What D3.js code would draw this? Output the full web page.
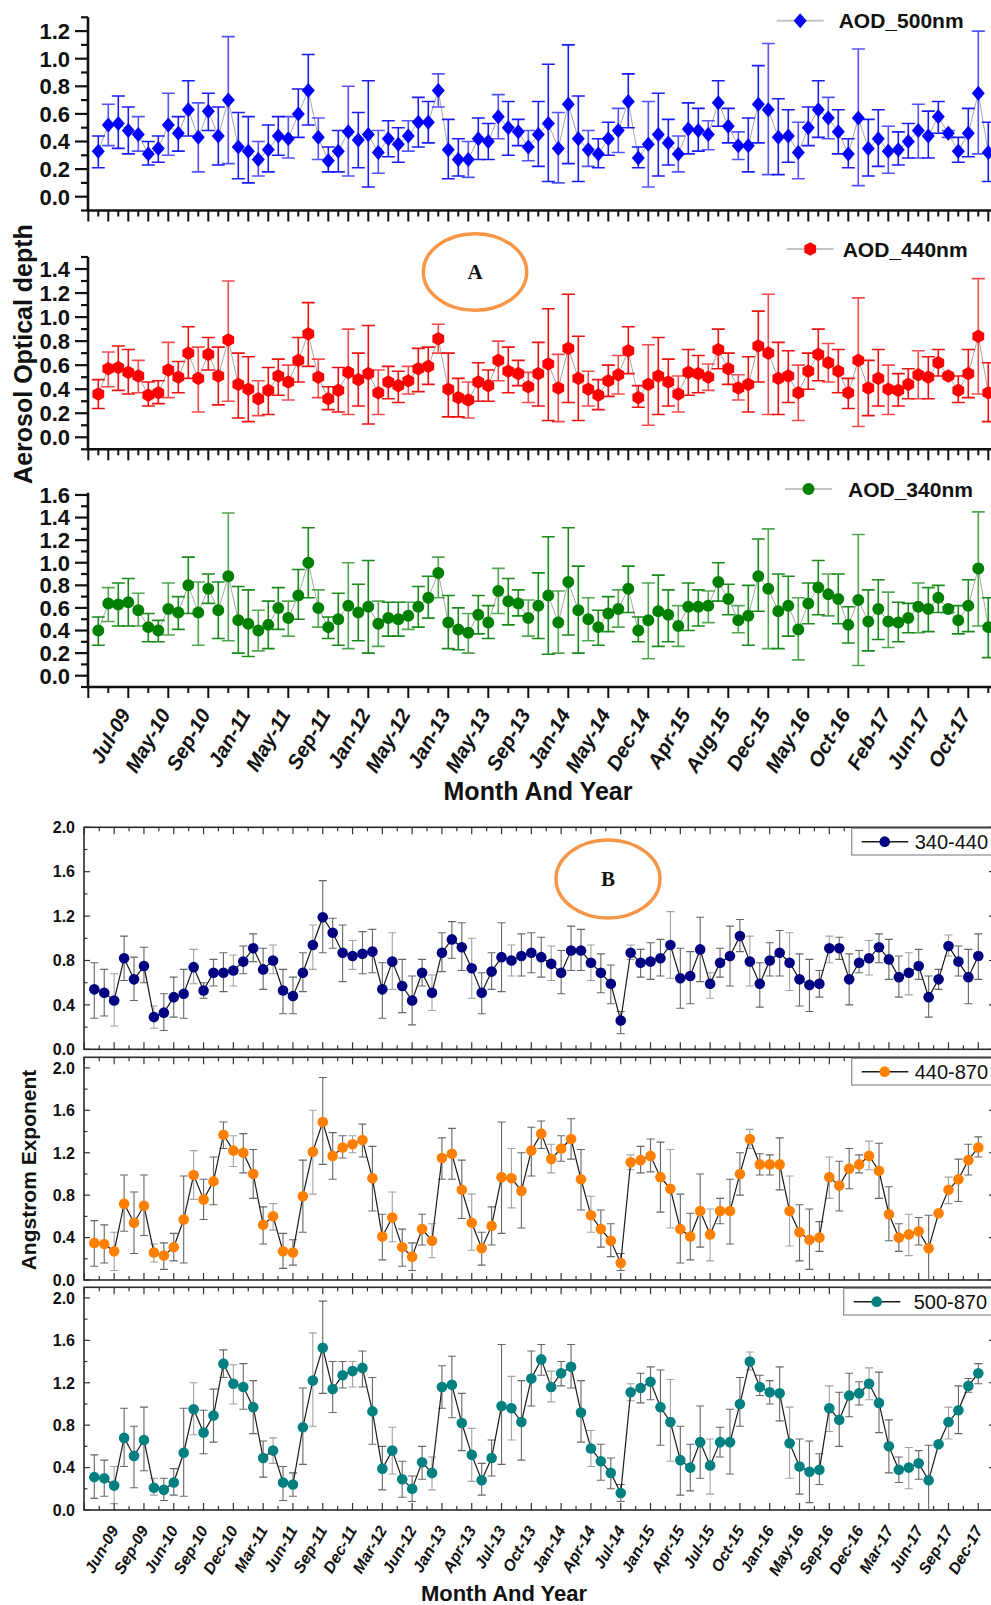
<!DOCTYPE html>
<html>
<head>
<meta charset="utf-8">
<script src="https://cdn.jsdelivr.net/npm/d3@7/dist/d3.min.js"></script>
<style>
body { margin: 0; background: #fff; }
svg { display: block; font-family: "Liberation Sans", Arial, sans-serif; }
</style>
</head>
<body>
<div id="chart"></div>
<script>
// month labels shown on the category axes
var labelsA = ["Jul-09","May-10","Sep-10","Jan-11","May-11","Sep-11","Jan-12","May-12","Jan-13","May-13","Sep-13",
  "Jan-14","May-14","Dec-14","Apr-15","Aug-15","Dec-15","May-16","Oct-16","Feb-17","Jun-17","Oct-17"];
var labelsB = ["Jun-09","Sep-09","Jun-10","Sep-10","Dec-10","Mar-11","Jun-11","Sep-11","Dec-11","Mar-12","Jun-12",
  "Jan-13","Apr-13","Jul-13","Oct-13","Jan-14","Apr-14","Jul-14","Jan-15","Apr-15","Jul-15","Oct-15","Jan-16",
  "May-16","Sep-16","Dec-16","Mar-17","Jun-17","Sep-17","Dec-17"];

// AOD 500 nm: mean, upper and lower error values
var aod500 = [0.33,0.52,0.53,0.48,0.45,0.31,0.35,0.52,0.46,0.63, 0.43,0.62,0.44,0.70,0.36,0.33,0.27,0.34,0.44,0.42,
  0.60,0.77,0.43,0.26,0.33,0.47,0.41,0.45,0.32,0.42, 0.38,0.44,0.54,0.54,0.77,0.34,0.27,0.27,0.42,0.40,
  0.58,0.50,0.47,0.36,0.45,0.53,0.35,0.67,0.42,0.34, 0.31,0.42,0.48,0.69,0.28,0.38,0.45,0.39,0.31,0.49,
  0.48,0.45,0.68,0.51,0.37,0.37,0.67,0.63,0.43,0.44, 0.32,0.50,0.63,0.57,0.47,0.31,0.57,0.35,0.42,0.33,
  0.34,0.40,0.48,0.44,0.58,0.46,0.33,0.46,0.75,0.32];
var aod500Hi = [0.44,0.67,0.73,0.65,0.58,0.40,0.44,0.75,0.58,0.84, 0.68,0.75,0.65,1.16,0.61,0.58,0.40,0.52,0.58,0.58,
  0.78,1.03,0.57,0.36,0.48,0.80,0.61,0.84,0.48,0.55, 0.50,0.55,0.72,0.69,0.89,0.56,0.42,0.40,0.57,0.53,
  0.74,0.69,0.56,0.48,0.69,0.96,0.61,1.10,0.73,0.48, 0.42,0.54,0.64,0.89,0.36,0.69,0.75,0.56,0.44,0.68,
  0.64,0.55,0.84,0.64,0.47,0.57,0.95,1.11,0.71,0.63, 0.54,0.65,0.84,0.72,0.63,0.42,1.07,0.56,0.63,0.51,
  0.47,0.53,0.67,0.62,0.69,0.48,0.43,0.64,1.20,0.54];
var aod500Lo = [0.21,0.37,0.35,0.31,0.33,0.23,0.25,0.30,0.33,0.44, 0.18,0.48,0.23,0.24,0.13,0.10,0.15,0.18,0.30,0.28,
  0.43,0.52,0.27,0.18,0.18,0.15,0.21,0.07,0.17,0.29, 0.25,0.33,0.36,0.39,0.65,0.13,0.15,0.14,0.27,0.27,
  0.42,0.30,0.37,0.26,0.22,0.11,0.10,0.24,0.11,0.22, 0.21,0.30,0.32,0.50,0.21,0.07,0.15,0.23,0.18,0.31,
  0.33,0.34,0.51,0.39,0.27,0.18,0.39,0.16,0.16,0.25, 0.13,0.37,0.43,0.42,0.31,0.21,0.08,0.15,0.22,0.17,
  0.23,0.28,0.28,0.28,0.46,0.43,0.25,0.29,0.31,0.11];

// AOD 440 nm
var aod440 = [0.36,0.57,0.58,0.54,0.51,0.35,0.37,0.56,0.50,0.70, 0.49,0.69,0.51,0.81,0.44,0.40,0.32,0.39,0.51,0.46,
  0.64,0.86,0.50,0.32,0.39,0.54,0.48,0.53,0.37,0.46, 0.43,0.47,0.57,0.59,0.82,0.40,0.33,0.31,0.46,0.43,
  0.64,0.55,0.53,0.42,0.53,0.61,0.41,0.74,0.49,0.40, 0.35,0.47,0.52,0.72,0.33,0.44,0.51,0.46,0.36,0.54,
  0.53,0.50,0.73,0.57,0.41,0.44,0.76,0.70,0.49,0.51, 0.37,0.55,0.69,0.62,0.55,0.37,0.64,0.41,0.49,0.40,
  0.39,0.44,0.52,0.50,0.62,0.51,0.39,0.53,0.84,0.37];
var aod440Hi = [0.48,0.71,0.76,0.73,0.64,0.46,0.47,0.79,0.63,0.92, 0.75,0.83,0.75,1.30,0.70,0.67,0.47,0.58,0.65,0.60,
  0.83,1.12,0.65,0.42,0.58,0.90,0.70,0.93,0.56,0.59, 0.55,0.59,0.74,0.75,0.94,0.70,0.49,0.46,0.62,0.56,
  0.80,0.75,0.64,0.54,0.79,1.07,0.69,1.19,0.84,0.55, 0.48,0.60,0.68,0.92,0.43,0.77,0.83,0.65,0.51,0.73,
  0.68,0.61,0.90,0.70,0.52,0.67,1.05,1.19,0.79,0.72, 0.60,0.70,0.90,0.78,0.73,0.49,1.16,0.64,0.73,0.60,
  0.53,0.57,0.72,0.67,0.73,0.52,0.51,0.73,1.32,0.62];
var aod440Lo = [0.24,0.42,0.39,0.36,0.37,0.26,0.28,0.33,0.37,0.49, 0.21,0.56,0.27,0.30,0.16,0.13,0.18,0.19,0.35,0.31,
  0.46,0.59,0.33,0.23,0.21,0.19,0.26,0.11,0.19,0.32, 0.29,0.36,0.38,0.44,0.70,0.17,0.17,0.16,0.30,0.30,
  0.47,0.37,0.43,0.29,0.26,0.14,0.13,0.29,0.14,0.26, 0.23,0.34,0.36,0.53,0.25,0.10,0.19,0.26,0.21,0.35,
  0.37,0.39,0.57,0.44,0.31,0.21,0.46,0.19,0.19,0.29, 0.14,0.40,0.47,0.46,0.37,0.24,0.09,0.18,0.26,0.19,
  0.26,0.32,0.32,0.32,0.51,0.50,0.29,0.33,0.36,0.13];

// AOD 340 nm
var aod340 = [0.40,0.64,0.63,0.65,0.58,0.43,0.40,0.59,0.56,0.80, 0.56,0.77,0.58,0.88,0.49,0.46,0.40,0.45,0.60,0.51,
  0.71,1.00,0.60,0.43,0.50,0.62,0.56,0.61,0.46,0.51, 0.50,0.53,0.61,0.69,0.91,0.47,0.41,0.38,0.54,0.47,
  0.75,0.66,0.64,0.51,0.62,0.71,0.47,0.83,0.58,0.50, 0.43,0.55,0.59,0.77,0.40,0.49,0.57,0.54,0.44,0.61,
  0.61,0.62,0.83,0.68,0.49,0.53,0.88,0.77,0.57,0.62, 0.41,0.64,0.78,0.72,0.68,0.45,0.67,0.48,0.59,0.48,
  0.47,0.51,0.61,0.59,0.69,0.59,0.49,0.62,0.95,0.43];
var aod340Hi = [0.52,0.78,0.82,0.86,0.73,0.55,0.49,0.82,0.70,1.05, 0.83,0.90,0.83,1.44,0.79,0.76,0.58,0.66,0.78,0.66,
  0.94,1.31,0.76,0.52,0.73,1.00,0.81,1.02,0.66,0.65, 0.65,0.65,0.79,0.88,1.05,0.71,0.60,0.55,0.71,0.62,
  0.95,0.86,0.76,0.67,0.91,1.23,0.75,1.31,0.97,0.69, 0.58,0.70,0.76,0.97,0.52,0.82,0.89,0.76,0.62,0.82,
  0.76,0.75,1.00,0.81,0.62,0.80,1.21,1.30,0.90,0.88, 0.69,0.82,1.02,0.90,0.90,0.61,1.25,0.76,0.85,0.74,
  0.65,0.64,0.82,0.78,0.80,0.61,0.62,0.85,1.45,0.69];
var aod340Lo = [0.27,0.48,0.44,0.44,0.44,0.30,0.30,0.36,0.41,0.55, 0.27,0.64,0.33,0.31,0.20,0.17,0.22,0.24,0.41,0.35,
  0.50,0.69,0.43,0.33,0.27,0.24,0.31,0.20,0.26,0.35, 0.35,0.41,0.43,0.51,0.69,0.24,0.23,0.20,0.37,0.33,
  0.55,0.45,0.53,0.35,0.33,0.19,0.20,0.36,0.20,0.31, 0.27,0.39,0.43,0.56,0.30,0.15,0.26,0.30,0.26,0.40,
  0.44,0.47,0.66,0.54,0.38,0.27,0.57,0.24,0.24,0.35, 0.14,0.46,0.54,0.53,0.46,0.29,0.09,0.22,0.32,0.25,
  0.30,0.38,0.38,0.39,0.56,0.56,0.37,0.39,0.44,0.16];

// Angstrom exponent 340-440
var ae340 = [0.54,0.51,0.44,0.82,0.63,0.75,0.29,0.33,0.47,0.50, 0.74,0.53,0.69,0.69,0.71,0.79,0.91,0.72,0.80,0.53,
  0.48,0.69,0.94,1.19,1.05,0.87,0.84,0.86,0.88,0.54, 0.79,0.57,0.44,0.69,0.51,0.87,0.99,0.92,0.73,0.51,
  0.70,0.83,0.80,0.84,0.87,0.83,0.77,0.69,0.89,0.89, 0.78,0.69,0.59,0.26,0.87,0.78,0.79,0.82,0.94,0.64,
  0.66,0.90,0.59,0.78,0.84,1.02,0.79,0.59,0.80,0.87, 0.78,0.63,0.58,0.59,0.91,0.91,0.63,0.78,0.82,0.92,
  0.81,0.65,0.69,0.75,0.47,0.63,0.93,0.79,0.65,0.84];
var ae340Hi = [0.78,0.72,0.68,1.02,0.83,0.92,0.39,0.50,0.65,0.72, 0.90,0.60,0.81,0.87,0.85,0.93,1.04,0.91,0.94,0.72,
  0.65,0.87,1.12,1.52,1.18,1.12,0.98,1.06,1.08,0.78, 1.05,0.81,0.66,0.81,0.67,1.05,1.15,1.14,1.00,0.69,
  0.87,1.14,0.94,1.04,1.05,1.01,0.93,0.89,1.11,1.08, 0.94,0.86,0.76,0.34,0.94,0.90,0.96,0.99,1.24,0.91,
  0.88,1.19,0.69,0.91,1.11,1.17,1.02,0.78,0.96,1.07, 1.05,0.86,0.81,0.71,1.02,1.01,0.86,0.89,0.98,1.04,
  0.99,0.84,0.87,0.90,0.66,0.72,1.03,0.93,0.90,1.04];
var ae340Lo = [0.28,0.30,0.21,0.62,0.44,0.60,0.19,0.17,0.29,0.28, 0.59,0.46,0.57,0.52,0.57,0.68,0.79,0.54,0.68,0.32,
  0.32,0.52,0.72,0.87,0.91,0.61,0.72,0.68,0.69,0.28, 0.54,0.33,0.22,0.57,0.35,0.70,0.82,0.71,0.46,0.32,
  0.54,0.52,0.66,0.66,0.69,0.65,0.62,0.50,0.71,0.71, 0.62,0.51,0.41,0.14,0.81,0.65,0.63,0.66,0.64,0.37,
  0.41,0.61,0.46,0.65,0.57,0.88,0.57,0.38,0.66,0.66, 0.53,0.39,0.34,0.47,0.78,0.81,0.40,0.69,0.67,0.78,
  0.63,0.47,0.49,0.63,0.29,0.54,0.84,0.66,0.41,0.63];

// Angstrom exponent 440-870
var ae440 = [0.35,0.34,0.27,0.72,0.54,0.70,0.26,0.23,0.31,0.57, 0.99,0.76,0.93,1.37,1.22,1.20,1.00,0.52,0.60,0.27,
  0.26,0.79,1.21,1.49,1.17,1.25,1.28,1.32,0.96,0.41, 0.59,0.31,0.22,0.48,0.37,1.15,1.19,0.85,0.54,0.30,
  0.51,0.97,0.96,0.84,1.22,1.38,1.14,1.24,1.33,0.95, 0.61,0.48,0.37,0.16,1.11,1.13,1.17,0.97,0.86,0.48,
  0.41,0.65,0.43,0.65,0.65,1.00,1.33,1.09,1.09,1.09, 0.65,0.45,0.38,0.40,0.97,0.89,1.05,1.09,1.17,1.03,
  0.62,0.40,0.43,0.46,0.30,0.63,0.85,0.95,1.13,1.25];
var ae440Hi = [0.56,0.52,0.45,0.99,0.83,0.99,0.34,0.35,0.44,0.98, 1.22,0.95,1.16,1.49,1.36,1.38,1.23,0.69,0.72,0.44,
  0.38,1.13,1.60,1.91,1.39,1.36,1.36,1.47,1.26,0.62, 0.83,0.48,0.35,0.62,0.53,1.34,1.43,1.13,0.81,0.45,
  0.69,1.49,1.24,1.20,1.44,1.50,1.28,1.36,1.52,1.23, 0.79,0.66,0.53,0.25,1.18,1.26,1.33,1.30,1.23,0.81,
  0.63,1.00,0.67,0.77,0.95,1.20,1.42,1.19,1.18,1.34, 0.98,0.71,0.67,0.55,1.16,1.12,1.24,1.18,1.31,1.29,
  0.88,0.53,0.62,0.59,0.61,0.63,0.97,1.14,1.28,1.35];
var ae440Lo = [0.13,0.16,0.09,0.46,0.25,0.42,0.17,0.10,0.18,0.16, 0.76,0.57,0.71,1.24,1.07,1.01,0.77,0.34,0.47,0.11,
  0.14,0.45,0.81,1.09,0.95,1.15,1.20,1.16,0.65,0.19, 0.36,0.13,0.09,0.33,0.21,0.95,0.95,0.58,0.28,0.14,
  0.33,0.44,0.68,0.49,0.98,1.24,1.01,1.12,1.14,0.66, 0.45,0.31,0.22,0.09,1.04,1.01,1.02,0.64,0.49,0.16,
  0.19,0.31,0.18,0.53,0.34,0.80,1.24,0.99,0.99,0.85, 0.32,0.18,0.10,0.27,0.77,0.65,0.86,1.01,1.04,0.77,
  0.37,0.27,0.23,0.33,0.00,0.63,0.72,0.74,0.99,1.16];

// Angstrom exponent 500-870
var ae500 = [0.31,0.30,0.23,0.68,0.51,0.66,0.21,0.19,0.26,0.54, 0.95,0.73,0.89,1.38,1.19,1.16,0.97,0.49,0.56,0.26,
  0.24,0.78,1.22,1.53,1.14,1.27,1.31,1.34,0.93,0.39, 0.56,0.29,0.20,0.45,0.35,1.16,1.18,0.82,0.52,0.28,
  0.49,0.98,0.96,0.83,1.24,1.42,1.16,1.29,1.35,0.92, 0.58,0.46,0.35,0.16,1.11,1.15,1.21,0.97,0.83,0.47,
  0.40,0.64,0.42,0.64,0.64,1.00,1.40,1.16,1.11,1.10, 0.63,0.41,0.36,0.38,0.96,0.85,1.08,1.10,1.19,1.01,
  0.60,0.38,0.40,0.44,0.28,0.62,0.83,0.94,1.17,1.29];
var ae500Hi = [0.52,0.47,0.41,0.96,0.79,0.97,0.30,0.30,0.39,0.96, 1.20,0.94,1.14,1.51,1.37,1.38,1.22,0.65,0.68,0.41,
  0.35,1.15,1.67,1.97,1.40,1.40,1.40,1.50,1.25,0.60, 0.78,0.46,0.32,0.60,0.50,1.36,1.45,1.10,0.77,0.44,
  0.66,1.56,1.26,1.22,1.50,1.56,1.31,1.40,1.56,1.22, 0.75,0.62,0.49,0.24,1.19,1.29,1.35,1.32,1.23,0.79,
  0.62,0.98,0.67,0.78,0.95,1.25,1.49,1.27,1.22,1.35, 0.97,0.67,0.65,0.53,1.17,1.11,1.29,1.21,1.34,1.30,
  0.85,0.50,0.59,0.56,0.61,0.63,0.97,1.17,1.24,1.38];
var ae500Lo = [0.11,0.13,0.06,0.41,0.21,0.37,0.14,0.09,0.14,0.13, 0.71,0.53,0.64,1.25,1.00,0.95,0.72,0.31,0.44,0.09,
  0.13,0.43,0.79,1.10,0.92,1.15,1.16,1.16,0.62,0.19, 0.34,0.12,0.08,0.29,0.19,0.96,0.87,0.56,0.27,0.14,
  0.32,0.43,0.66,0.47,0.98,1.27,1.02,1.17,1.15,0.64, 0.41,0.28,0.20,0.08,1.03,1.01,1.04,0.61,0.46,0.14,
  0.18,0.30,0.15,0.50,0.34,0.79,1.32,1.08,1.00,0.84, 0.30,0.15,0.07,0.24,0.74,0.60,0.88,0.99,1.04,0.73,
  0.35,0.26,0.20,0.29,0.00,0.61,0.67,0.72,1.11,1.19];

var W = 991, H = 1605;
var n = aod500.length;
var idx = d3.range(n);

var svg = d3.select("#chart").append("svg")
  .attr("width", W).attr("height", H);

// ---------- part A: three AOD panels sharing the x positions ----------
var xA = d3.scaleLinear().domain([0, n - 1]).range([98.3, 988.3]);
var axLeftA = 88;

var panelsA = [
  {vals: aod500, hi: aod500Hi, lo: aod500Lo, color: "#0000ff", bar: "#1a1aff", shape: "diamond",
   name: "AOD_500nm", dom: [-0.1, 1.3], rng: [210.5, 17.3], top: 1.2, legY: 20.7, legX: 776.7, txtDx: 62, showLabels: false, dense: true},
  {vals: aod440, hi: aod440Hi, lo: aod440Lo, color: "#ff0000", bar: "#f01010", shape: "hex",
   name: "AOD_440nm", dom: [-0.1, 1.5], rng: [449.3, 257], top: 1.4, legY: 249, legX: 786.7, txtDx: 56, showLabels: false, dense: true},
  {vals: aod340, hi: aod340Hi, lo: aod340Lo, color: "#008000", bar: "#1a8a1a", shape: "circle",
   name: "AOD_340nm", dom: [-0.1, 1.62], rng: [687, 492.7], top: 1.6, legY: 489, legX: 785, txtDx: 63, showLabels: true, dense: false}
];

function markerPath(shape) {
  if (shape === "diamond") return "M0,-7.5L6.5,0L0,7.5L-6.5,0Z";
  if (shape === "hex") {
    var p = d3.range(6).map(function(k) {
      var a = Math.PI / 6 + k * Math.PI / 3;
      return [6.8 * Math.cos(a), 6.8 * Math.sin(a)];
    });
    return "M" + p.join("L") + "Z";
  }
  return d3.symbol(d3.symbolCircle, 113)();
}

panelsA.forEach(function(p) {
  var y = d3.scaleLinear().domain(p.dom).range(p.rng);
  var g = svg.append("g");
  var y0 = p.rng[0];

  // y ticks (majors labelled, minors every 0.1)
  d3.range(-1, Math.round(p.dom[1] * 10) + 1).forEach(function(k) {
    var v = k / 10;
    var major = k >= 0 && k % 2 === 0 && v <= p.top + 1e-9;
    g.append("line")
      .attr("x1", axLeftA - (major ? 13 : 7)).attr("x2", axLeftA)
      .attr("y1", y(v)).attr("y2", y(v))
      .attr("stroke", "#111").attr("stroke-width", 2.2);
    if (major) {
      g.append("text")
        .attr("x", axLeftA - 18).attr("y", y(v)).attr("dy", "0.36em")
        .attr("text-anchor", "end")
        .attr("font-size", 22).attr("font-weight", "bold")
        .attr("fill", "#111")
        .text(d3.format(".1f")(v));
    }
  });

  // x ticks
  d3.range(-1, n).forEach(function(i) {
    var len;
    if (p.dense) len = (i % 2 !== 0) ? 11 : 6;
    else {
      if (i % 2 === 0) return;
      len = ((i + 4) % 4 === 3) ? 11 : 6;
    }
    g.append("line")
      .attr("x1", xA(i)).attr("x2", xA(i))
      .attr("y1", y0).attr("y2", y0 + len)
      .attr("stroke", "#111").attr("stroke-width", 2);
  });

  // axes lines
  g.append("line").attr("x1", axLeftA).attr("x2", W + 10)
    .attr("y1", y0).attr("y2", y0).attr("stroke", "#111").attr("stroke-width", 2.6);
  g.append("line").attr("x1", axLeftA).attr("x2", axLeftA)
    .attr("y1", p.rng[1]).attr("y2", y0 + 1.3).attr("stroke", "#111").attr("stroke-width", 2.6);

  // connecting line
  g.append("path")
    .datum(idx)
    .attr("fill", "none").attr("stroke", "#a8a8a8").attr("stroke-width", 1)
    .attr("d", d3.line().x(function(i) { return xA(i); }).y(function(i) { return y(p.vals[i]); }));

  // error bars
  var eb = g.append("g").attr("stroke", p.bar).attr("stroke-width", 1.6).attr("fill", "none");
  idx.forEach(function(i) {
    var cx = xA(i);
    eb.append("path")
      .attr("opacity", i % 3 === 1 ? 0.75 : 1)
      .attr("d", "M" + cx + "," + y(p.hi[i]) + "V" + y(p.lo[i]) +
        "M" + (cx - 6.5) + "," + y(p.hi[i]) + "H" + (cx + 6.5) +
        "M" + (cx - 6.5) + "," + y(p.lo[i]) + "H" + (cx + 6.5));
  });

  // markers
  g.append("g").selectAll("path")
    .data(idx).enter().append("path")
    .attr("d", markerPath(p.shape))
    .attr("transform", function(i) { return "translate(" + xA(i) + "," + y(p.vals[i]) + ")"; })
    .attr("fill", p.color);

  // legend
  g.append("line").attr("x1", p.legX).attr("x2", p.legX + 47)
    .attr("y1", p.legY).attr("y2", p.legY)
    .attr("stroke", "#c4c4c4").attr("stroke-width", 2);
  g.append("path").attr("d", markerPath(p.shape))
    .attr("transform", "translate(" + (p.legX + 23.5) + "," + p.legY + ")")
    .attr("fill", p.color);
  g.append("text").attr("x", p.legX + p.txtDx).attr("y", p.legY).attr("dy", "0.36em")
    .attr("font-size", 21).attr("font-weight", "bold").attr("fill", "#111")
    .text(p.name);

  // month labels under the last panel
  if (p.showLabels) {
    labelsA.forEach(function(lab, k) {
      var i = 3 + 4 * k;
      g.append("text")
        .attr("transform", "translate(" + (xA(i) + 3) + "," + (y0 + 27) + ") rotate(-60)")
        .attr("text-anchor", "end")
        .attr("font-size", 20.5).attr("font-weight", "bold").attr("font-style", "italic")
        .attr("fill", "#111")
        .text(lab);
    });
  }
});

svg.append("text")
  .attr("transform", "translate(32,354) rotate(-90)")
  .attr("text-anchor", "middle")
  .attr("font-size", 25).attr("font-weight", "bold").attr("fill", "#111")
  .text("Aerosol Optical depth");

svg.append("text")
  .attr("x", 538).attr("y", 800)
  .attr("text-anchor", "middle")
  .attr("font-size", 25).attr("font-weight", "bold").attr("fill", "#111")
  .text("Month And Year");

// ---------- part B: three Angstrom exponent panels ----------
var xB = d3.scaleLinear().domain([0, n - 1]).range([94.3, 978.3]);
var frameL = 84, frameR = 995;

var panelsB = [
  {vals: ae340, hi: ae340Hi, lo: ae340Lo, color: "#000080", name: "340-440",
   top: 827.3, zero: 1049.3, ymax: 2.0, leg: [851.7, 828.3, 26.7, 63]},
  {vals: ae440, hi: ae440Hi, lo: ae440Lo, color: "#ff8000", name: "440-870",
   top: 1057.3, zero: 1280, ymax: 2.1, leg: [851.7, 1058.3, 26.7, 63]},
  {vals: ae500, hi: ae500Hi, lo: ae500Lo, color: "#008080", name: "500-870",
   top: 1287.3, zero: 1510, ymax: 2.1, leg: [843.7, 1288.3, 26.7, 70]}
];

panelsB.forEach(function(p, pi) {
  var y = d3.scaleLinear().domain([0, p.ymax]).range([p.zero, p.top]);
  var g = svg.append("g");

  // y ticks inward, left and right
  d3.range(0, 11).forEach(function(k) {
    var v = k * 0.2;
    var major = k % 2 === 0;
    var len = major ? 6 : 3.5;
    [[frameL, 1], [frameR, -1]].forEach(function(s) {
      g.append("line")
        .attr("x1", s[0]).attr("x2", s[0] + s[1] * len)
        .attr("y1", y(v)).attr("y2", y(v))
        .attr("stroke", "#333").attr("stroke-width", 1.2);
    });
    if (major) {
      g.append("text")
        .attr("x", 75).attr("y", y(v)).attr("dy", "0.36em")
        .attr("text-anchor", "end")
        .attr("font-size", 16).attr("font-weight", "bold").attr("fill", "#111")
        .text(d3.format(".1f")(v));
    }
  });

  // x ticks inward, top and bottom
  d3.range(-1, 31).forEach(function(k) {
    var iMaj = 2 + 3 * k;
    [[iMaj, 7], [iMaj + 1.5, 4]].forEach(function(t) {
      var xx = xB(t[0]);
      if (xx <= frameL || xx >= frameR) return;
      g.append("line").attr("x1", xx).attr("x2", xx)
        .attr("y1", p.zero).attr("y2", p.zero - t[1])
        .attr("stroke", "#333").attr("stroke-width", 1.2);
      g.append("line").attr("x1", xx).attr("x2", xx)
        .attr("y1", p.top).attr("y2", p.top + t[1])
        .attr("stroke", "#333").attr("stroke-width", 1.2);
    });
  });

  // frame
  g.append("rect")
    .attr("x", frameL).attr("y", p.top)
    .attr("width", frameR - frameL).attr("height", p.zero - p.top)
    .attr("fill", "none").attr("stroke", "#2a2a2a").attr("stroke-width", 1.6);

  // error bars
  var eb = g.append("g").attr("stroke", "#555").attr("stroke-width", 1.1).attr("fill", "none");
  idx.forEach(function(i) {
    var cx = xB(i);
    eb.append("path")
      .attr("opacity", i % 4 === 2 ? 0.55 : 0.9)
      .attr("d", "M" + cx + "," + y(p.hi[i]) + "V" + y(p.lo[i]) +
        "M" + (cx - 4) + "," + y(p.hi[i]) + "H" + (cx + 4) +
        "M" + (cx - 4) + "," + y(p.lo[i]) + "H" + (cx + 4));
  });

  g.append("path")
    .datum(idx)
    .attr("fill", "none").attr("stroke", "#1a1a1a").attr("stroke-width", 1.2)
    .attr("d", d3.line().x(function(i) { return xB(i); }).y(function(i) { return y(p.vals[i]); }));

  g.append("g").selectAll("circle")
    .data(idx).enter().append("circle")
    .attr("cx", function(i) { return xB(i); })
    .attr("cy", function(i) { return y(p.vals[i]); })
    .attr("r", 5.3)
    .attr("fill", p.color);

  // legend box
  var lx = p.leg[0], ly = p.leg[1], lh = p.leg[2];
  g.append("rect").attr("x", lx).attr("y", ly).attr("width", frameR - lx).attr("height", lh)
    .attr("fill", "#fff").attr("stroke", "#8a8a8a").attr("stroke-width", 1.2);
  g.append("line").attr("x1", lx + 10).attr("x2", lx + 56.6)
    .attr("y1", ly + lh / 2).attr("y2", ly + lh / 2)
    .attr("stroke", "#1a1a1a").attr("stroke-width", 1.5);
  g.append("circle").attr("cx", lx + 33).attr("cy", ly + lh / 2).attr("r", 5.3).attr("fill", p.color);
  g.append("text").attr("x", lx + p.leg[3]).attr("y", ly + lh / 2).attr("dy", "0.36em")
    .attr("font-size", 20).attr("fill", "#111")
    .text(p.name);

  if (pi === 2) {
    labelsB.forEach(function(lab, k) {
      var i = 2 + 3 * k;
      g.append("text")
        .attr("transform", "translate(" + (xB(i) + 5) + "," + (p.zero + 20) + ") rotate(-60)")
        .attr("text-anchor", "end")
        .attr("font-size", 16).attr("font-weight", "bold").attr("font-style", "italic")
        .attr("fill", "#111")
        .text(lab);
    });
  }
});

svg.append("text")
  .attr("transform", "translate(36,1170) rotate(-90)")
  .attr("text-anchor", "middle")
  .attr("font-size", 21).attr("font-weight", "bold").attr("fill", "#111")
  .text("Angstrom Exponent");

svg.append("text")
  .attr("x", 504).attr("y", 1601)
  .attr("text-anchor", "middle")
  .attr("font-size", 22).attr("font-weight", "bold").attr("fill", "#111")
  .text("Month And Year");

// orange ellipses with panel letters
[["A", 475, 272, 51.7, 38.3], ["B", 608, 879, 52, 39]].forEach(function(e) {
  svg.append("ellipse").attr("cx", e[1]).attr("cy", e[2]).attr("rx", e[3]).attr("ry", e[4])
    .attr("fill", "none").attr("stroke", "#f79646").attr("stroke-width", 3.5);
  svg.append("text").attr("x", e[1]).attr("y", e[2]).attr("dy", "0.35em")
    .attr("text-anchor", "middle")
    .attr("font-family", "'Liberation Serif', 'Times New Roman', serif")
    .attr("font-size", 21).attr("font-weight", "bold").attr("fill", "#111")
    .text(e[0]);
});
</script>
</body>
</html>
